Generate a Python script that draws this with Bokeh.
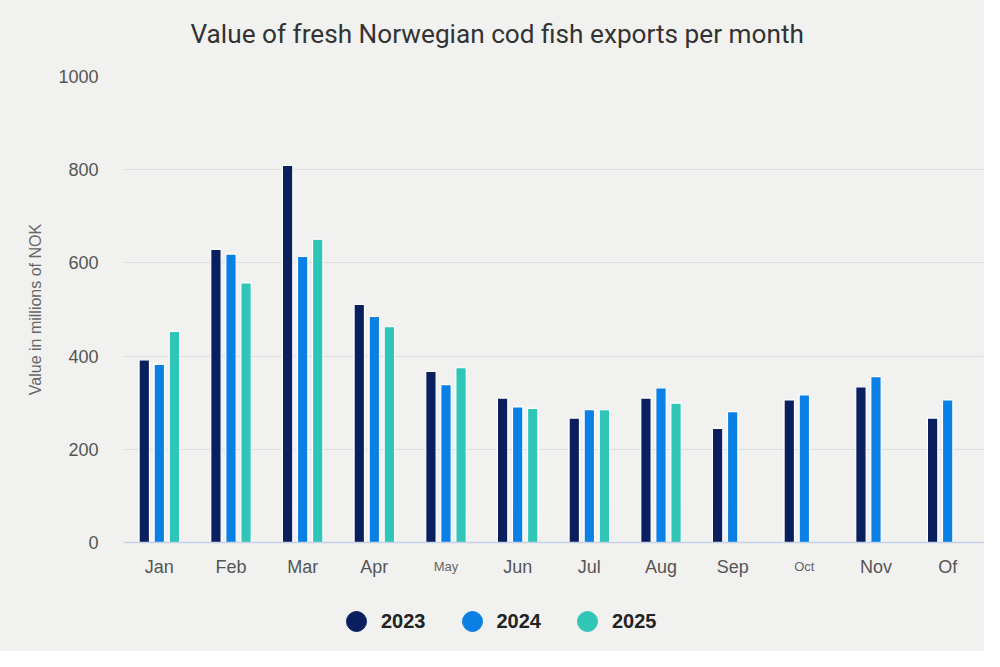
from bokeh.plotting import figure
from bokeh.layouts import column
from bokeh.models import (ColumnDataSource, Range1d, FixedTicker, LinearAxis, Title,
                          Legend, LegendItem)
from bokeh.embed import file_html
from bokeh.resources import INLINE

# ---- data ----
months = ["Jan", "Feb", "Mar", "Apr", "May", "Jun", "Jul", "Aug", "Sep", "Oct", "Nov", "Of"]
v2023 = [392, 629, 809, 511, 367, 310, 267, 310, 245, 306, 334, 267]
v2024 = [382, 619, 614, 485, 339, 291, 285, 332, 281, 317, 356, 306]
v2025 = [453, 557, 651, 463, 375, 288, 285, 299]
years = ["2023", "2024", "2025"]
colors = ["#0a1f5e", "#0b80e4", "#2fc6b7"]
small_labels = ["May", "Oct"]
y_ticks = [0, 200, 400, 600, 800, 1000]

BG = "#f1f2f0"
TXT = "#555555"

p = figure(x_range=Range1d(0, len(months)), y_range=Range1d(0, 1000),
           width=984, height=595, output_backend="svg", toolbar_location=None,
           min_border_left=123, min_border_right=1, min_border_top=76, min_border_bottom=53,
           background_fill_color=BG, border_fill_color=BG, outline_line_color=None)

series = [v2023, v2024, v2025]
offsets = [-0.21, 0.0, 0.21]
sources = []
for vals, col, off in zip(series, colors, offsets):
    xs = [i + 0.5 + off for i in range(len(vals))]
    src = ColumnDataSource(dict(x=xs, val=vals))
    sources.append(src)
    p.vbar(x="x", top="val", width=0.145, source=src,
           fill_color=col, line_color="white", line_width=1.2)

# y axis
p.yaxis.ticker = FixedTicker(ticks=y_ticks)
p.ygrid.ticker = FixedTicker(ticks=y_ticks)
p.yaxis.axis_line_color = None
p.yaxis.major_tick_line_color = None
p.yaxis.major_tick_out = 0
p.yaxis.major_tick_in = 0
p.yaxis.minor_tick_line_color = None
p.yaxis.major_label_standoff = 25
p.yaxis.major_label_text_font = "Liberation Sans"
p.yaxis.major_label_text_font_size = "18px"
p.yaxis.major_label_text_color = TXT
p.yaxis.axis_label = "Value in millions of NOK"
p.yaxis.axis_label_text_font = "Liberation Sans"
p.yaxis.axis_label_text_font_size = "16px"
p.yaxis.axis_label_text_font_style = "normal"
p.yaxis.axis_label_text_color = "#666666"
p.yaxis.axis_label_standoff = 11

# x axis: regular month labels
normal_idx = [i for i, m in enumerate(months) if m not in small_labels]
small_idx = [i for i, m in enumerate(months) if m in small_labels]
xa = p.xaxis[0]
xa.ticker = FixedTicker(ticks=[i + 0.5 for i in normal_idx])
xa.major_label_overrides = {i + 0.5: months[i] for i in normal_idx}
xa.axis_line_color = "#c6d0e6"
xa.axis_line_width = 1.5
xa.major_tick_line_color = None
xa.major_tick_out = 0
xa.major_tick_in = 0
xa.minor_tick_line_color = None
xa.major_label_standoff = 14
xa.major_label_text_font = "Liberation Sans"
xa.major_label_text_font_size = "18px"
xa.major_label_text_color = TXT

# x axis: small month labels, pulled up into the same row
xb = LinearAxis(ticker=FixedTicker(ticks=[i + 0.5 for i in small_idx]),
                major_label_overrides={i + 0.5: months[i] for i in small_idx},
                axis_line_color=None, major_tick_line_color=None, minor_tick_line_color=None,
                major_tick_out=0, major_tick_in=0, major_label_standoff=-21,
                major_label_text_font="Liberation Sans", major_label_text_font_size="13px",
                major_label_text_color="#666666")
p.add_layout(xb, "below")

p.xgrid.grid_line_color = None
p.ygrid.grid_line_color = "#dcdedd"
p.ygrid.grid_line_width = 1

# title (an empty spacer title keeps it higher above the plot area)
p.add_layout(Title(text="\u00a0", text_font_size="10px", standoff=0,
                   text_font="Roboto"), "above")
p.add_layout(Title(text="Value of fresh Norwegian cod fish exports per month",
                   align="left", offset=67, standoff=30,
                   text_font="Roboto", text_font_size="26.2px", text_color="#333333",
                   text_font_style="normal"), "above")

# ---- legend strip below the chart ----
leg = figure(width=984, height=56, output_backend="svg", toolbar_location=None,
             x_range=Range1d(0, 1), y_range=Range1d(0, 1),
             min_border_left=123, min_border_right=1, min_border_top=0, min_border_bottom=0,
             background_fill_color=BG, border_fill_color=BG, outline_line_color=None)
leg.axis.visible = False
leg.grid.visible = False
items = []
for yr, col, src in zip(years, colors, sources):
    r = leg.scatter(x="x", y="val", source=src, marker="circle", size=0,
                    fill_color=col, line_color=col)
    items.append(LegendItem(label=yr, renderers=[r]))
legend = Legend(items=items, orientation="horizontal", location=(208, 5),
                glyph_width=50, glyph_height=50, label_standoff=-3, spacing=21,
                padding=0, margin=0, border_line_alpha=0, background_fill_alpha=0,
                label_text_font="Liberation Sans", label_text_font_style="bold",
                label_text_font_size="20px", label_text_color="#222222")
leg.add_layout(legend, "center")

layout = column(p, leg, spacing=0, styles={"background-color": BG})
open("out.html", "w").write(file_html(layout, INLINE))
